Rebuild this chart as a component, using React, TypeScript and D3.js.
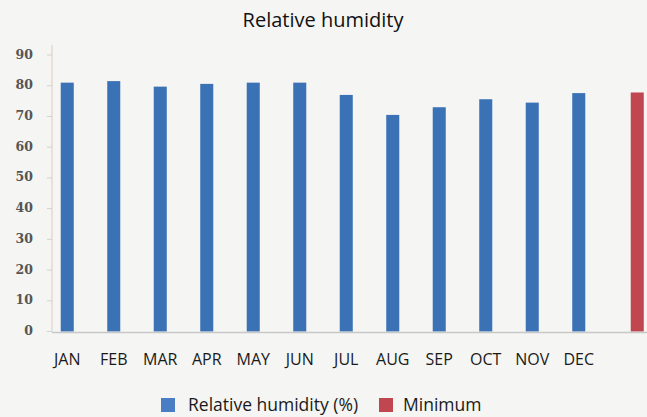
import * as d3 from 'd3';
import { useEffect, useRef } from 'react';

const MONTHS = ['JAN', 'FEB', 'MAR', 'APR', 'MAY', 'JUN', 'JUL', 'AUG', 'SEP', 'OCT', 'NOV', 'DEC'];
const HUMIDITY = [81, 81.5, 79.7, 80.6, 81, 81, 77, 70.5, 73, 75.6, 74.5, 77.6];
const MIN_CATEGORY = '';
const MINIMUM = [77.8];
const Y_TICKS = [0, 10, 20, 30, 40, 50, 60, 70, 80, 90];
const SERIES = ['Relative humidity (%)', 'Minimum'];

const W = 647;
const H = 417;
const M = { top: 55, right: 0, bottom: 85, left: 52 };
const BLUE = '#3b72b6';
const RED = '#c0464f';
const MIN_SHIFT = 12; // second-series slot offset inside its band

export default function App() {
  const ref = useRef<SVGSVGElement>(null);

  useEffect(() => {
    if (!ref.current) return;
    const svg = d3.select(ref.current);
    svg.selectAll('*').remove();

    const x = d3.scaleBand<string>()
      .domain([...MONTHS, MIN_CATEGORY])
      .range([M.left - 8, M.left - 8 + 13 * 46.5])
      .paddingInner(0.72)
      .paddingOuter(0.36);
    const y = d3.scaleLinear().domain([0, 90]).range([331.5, 55]);

    // paper background
    svg.append('rect').attr('width', W).attr('height', H).attr('fill', '#f5f5f3');

    // title
    svg.append('text')
      .attr('x', 323).attr('y', 27)
      .attr('text-anchor', 'middle')
      .attr('font-family', 'Open Sans')
      .attr('font-size', 20)
      .attr('fill', '#111')
      .text('Relative humidity');

    // y axis line + ticks
    svg.append('line')
      .attr('x1', M.left).attr('x2', M.left)
      .attr('y1', 45).attr('y2', y(0))
      .attr('stroke', '#e2c9c2').attr('stroke-width', 1);

    const yg = svg.append('g');
    Y_TICKS.forEach(t => {
      yg.append('line')
        .attr('x1', M.left - 5).attr('x2', M.left)
        .attr('y1', y(t)).attr('y2', y(t))
        .attr('stroke', '#d2d2d2');
      yg.append('text')
        .attr('x', 33).attr('y', y(t))
        .attr('text-anchor', 'end')
        .attr('dominant-baseline', 'middle')
        .attr('font-family', 'DejaVu Serif')
        .attr('font-weight', 'bold')
        .attr('font-size', 12.5)
        .attr('fill', '#555')
        .text(t);
    });

    // bars
    svg.append('g')
      .selectAll('rect')
      .data(MONTHS.map((m, i) => ({ m, v: HUMIDITY[i] })))
      .join('rect')
      .attr('x', d => x(d.m)!)
      .attr('y', d => y(d.v))
      .attr('width', x.bandwidth())
      .attr('height', d => y(0) - y(d.v))
      .attr('fill', BLUE);

    svg.append('g')
      .selectAll('rect')
      .data(MINIMUM)
      .join('rect')
      .attr('x', x(MIN_CATEGORY)! + MIN_SHIFT)
      .attr('y', d => y(d))
      .attr('width', x.bandwidth())
      .attr('height', d => y(0) - y(d))
      .attr('fill', RED);

    // baseline
    svg.append('line')
      .attr('x1', M.left).attr('x2', W)
      .attr('y1', y(0) + 1).attr('y2', y(0) + 1)
      .attr('stroke', '#c8c8c8').attr('stroke-width', 1.5);

    // month labels
    svg.append('g')
      .selectAll('text')
      .data(MONTHS)
      .join('text')
      .attr('x', d => x(d)! + x.bandwidth() / 2)
      .attr('y', 365)
      .attr('text-anchor', 'middle')
      .attr('font-family', 'Open Sans')
      .attr('font-size', 16)
      .attr('fill', '#1a1a1a')
      .text(d => d);

    // legend
    const lg = svg.append('g');
    const items = [
      { label: SERIES[0], color: '#4a7ec4', sx: 161, tx: 188 },
      { label: SERIES[1], color: RED, sx: 379, tx: 403 },
    ];
    items.forEach(it => {
      lg.append('rect').attr('x', it.sx).attr('y', 398).attr('width', 14).attr('height', 14).attr('fill', it.color);
      lg.append('text')
        .attr('x', it.tx).attr('y', 411)
        .attr('font-family', 'Open Sans')
        .attr('font-size', 17.5)
        .attr('fill', '#1a1a1a')
        .text(it.label);
    });
  }, []);

  return (
    <svg
      ref={ref}
      width={W}
      height={H}
      style={{ position: 'fixed', left: 0, top: 0, display: 'block' }}
    />
  );
}
